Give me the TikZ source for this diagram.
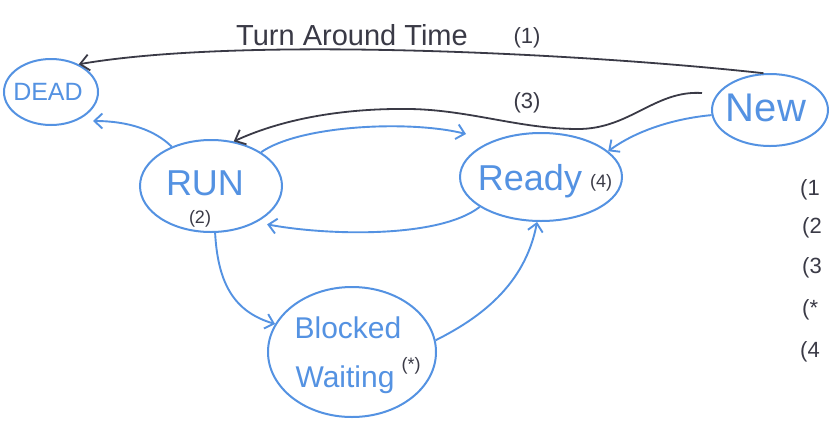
\documentclass[tikz,border=0pt]{standalone}
\usepackage{fontspec}
\setmainfont{Liberation Sans}
\usetikzlibrary{shapes.geometric,arrows.meta}
\definecolor{pen}{RGB}{84,146,226}
\definecolor{ink}{RGB}{58,58,70}
\tikzset{
  state/.style={draw=pen, line width=2pt, ellipse, inner sep=0pt},
  flow/.style={draw=pen, line width=1.9pt, -{Straight Barb[length=8pt,width=15pt]}},
  pencil/.style={draw=ink, line width=1.8pt, -{Straight Barb[length=9pt,width=16pt]}},
  bluetxt/.style={text=pen, inner sep=0pt},
  inktxt/.style={text=ink, inner sep=0pt},
  fs/.style={font=\fontsize{#1}{#1}\selectfont}
}
\begin{document}
\begin{tikzpicture}[x=1pt,y=-1pt]
\useasboundingbox (0,0) rectangle (830,424);
\clip (0,0) rectangle (830,424);
\fill[white] (0,0) rectangle (830,424);

% states
\node[state, minimum width=94pt, minimum height=66pt] (dead) at (51,92) {};
\node[state, minimum width=142pt, minimum height=92pt] (run) at (211,186) {};
\node[state, minimum width=162pt, minimum height=88pt] (ready) at (541,177) {};
\node[state, minimum width=116pt, minimum height=72pt] (new) at (770,110) {};
\node[state, minimum width=168pt, minimum height=130pt] (blocked) at (352,352) {};

% state labels
\node[bluetxt, fs=25] (tdead) at (48,92) {DEAD};
\node[bluetxt, fs=36] (trun) at (205,183) {RUN};
\node[inktxt, fs=18] (nrun) at (200,219) {(2)};
\node[bluetxt, fs=36] (tready) at (530,181) {Ready};
\node[inktxt, fs=18] (nready) at (601,183) {(4)};
\node[bluetxt, fs=40] (tnew) at (766,108) {New};
\node[bluetxt, fs=30] (tblock) at (348,328) {Blocked};
\node[bluetxt, fs=30] (twait) at (345,380) {Waiting};
\node[inktxt, fs=18] (nblock) at (411,366) {(*)};

% free ends of connectors
\coordinate (threeStart) at (702,93);
\coordinate (upTip) at (466,134);
\coordinate (deadTip) at (93,121);

% pencil connectors
\draw[pencil] (new.100) .. controls (600,55) and (250,35) .. (dead.45);
\draw[pencil] (threeStart) .. controls (655,90) and (630,129) .. (578,129)
   .. controls (520,129) and (470,110) .. (410,109)
   .. controls (340,108) and (280,120) .. (run.63);
\node[inktxt, fs=29] (tat) at (352,35) {Turn Around Time};
\node[inktxt, fs=22] (one) at (527,38) {(1)};
\node[inktxt, fs=22] (three) at (527,103) {(3)};

% pen connectors
\draw[flow] (run.135) .. controls (155,130) and (128,121) .. (deadTip);
\draw[flow] (run.34) .. controls (300,125) and (410,120) .. (upTip);
\draw[flow] (ready.206) .. controls (440,238) and (330,236) .. ([xshift=7pt,yshift=-4pt]run.-35);
\draw[flow] (new.185) .. controls (680,118) and (640,128) .. (ready.21);
\draw[flow] (run.-85) .. controls (218,285) and (235,312) .. (blocked.160);
\draw[flow] (blocked.8) .. controls (480,318) and (525,285) .. (ready.-95);

% notes at the right edge
\node[inktxt, fs=22, anchor=west] (k1) at (800,190) {(1};
\node[inktxt, fs=22, anchor=west] (k2) at (802,228) {(2};
\node[inktxt, fs=22, anchor=west] (k3) at (802,268) {(3};
\node[inktxt, fs=22, anchor=west] (k4) at (802,310) {(*};
\node[inktxt, fs=22, anchor=west] (k5) at (800,352) {(4};
\end{tikzpicture}
\end{document}
